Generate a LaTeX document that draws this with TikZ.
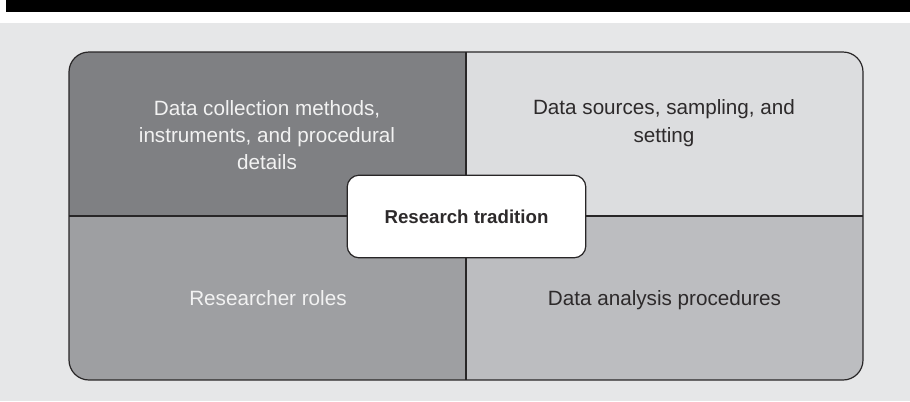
\documentclass[tikz,border=0pt]{standalone}
\usepackage{fontspec}
\setmainfont{Liberation Sans}
\definecolor{pagegray}{RGB}{230,231,232}
\definecolor{darkcell}{RGB}{127,128,131}
\definecolor{lightcell}{RGB}{220,221,223}
\definecolor{midcell}{RGB}{158,159,162}
\definecolor{softcell}{RGB}{188,189,192}
\definecolor{inkline}{RGB}{40,38,39}
\definecolor{inktext}{RGB}{45,42,43}
\begin{document}
\begin{tikzpicture}[x=0.75pt,y=-0.75pt,
  celltext/.style={align=center,inner sep=0pt,font=\fontsize{15.5}{20.5}\selectfont},
  centerbox/.style={draw=inkline,line width=0.9pt,fill=white,rounded corners=9pt,
    minimum width=179pt,minimum height=62pt,font=\fontsize{14}{17}\selectfont\bfseries,text=inktext}]
\useasboundingbox (0,0) rectangle (910,401);
% page band and background
\fill[black] (6,0) rectangle (910,12);
\fill[pagegray] (0,23) rectangle (910,401);
% frame corners
\coordinate (nw) at (69,52);
\coordinate (se) at (863,380);
\coordinate (mid) at (466,216);
\begin{scope}
\clip[rounded corners=15pt] (nw) rectangle (se);
\fill[darkcell] (nw) rectangle (mid);
\fill[lightcell] (466,52) rectangle (863,216);
\fill[midcell] (69,216) rectangle (466,380);
\fill[softcell] (mid) rectangle (se);
\end{scope}
\draw[inkline,line width=0.8pt] (466,52) -- (466,380);
\draw[inkline,line width=0.8pt] (69,216) -- (863,216);
\draw[inkline,line width=0.9pt,rounded corners=15pt] (nw) rectangle (se);
% cell labels
\node[celltext,text=white!95!black,anchor=north] (methods) at (267,100) {Data collection methods,\\instruments, and procedural\\details};
\node[celltext,text=inktext,anchor=north] (sources) at (664,99.5) {Data sources, sampling, and\\setting};
\node[celltext,text=white!95!black,anchor=base] (roles) at (268,305) {Researcher roles};
\node[celltext,text=inktext,anchor=base] (analysis) at (664.5,305) {Data analysis procedures};
% center
\node[centerbox] (tradition) at (466.5,216.5) {Research tradition};
\end{tikzpicture}
\end{document}
